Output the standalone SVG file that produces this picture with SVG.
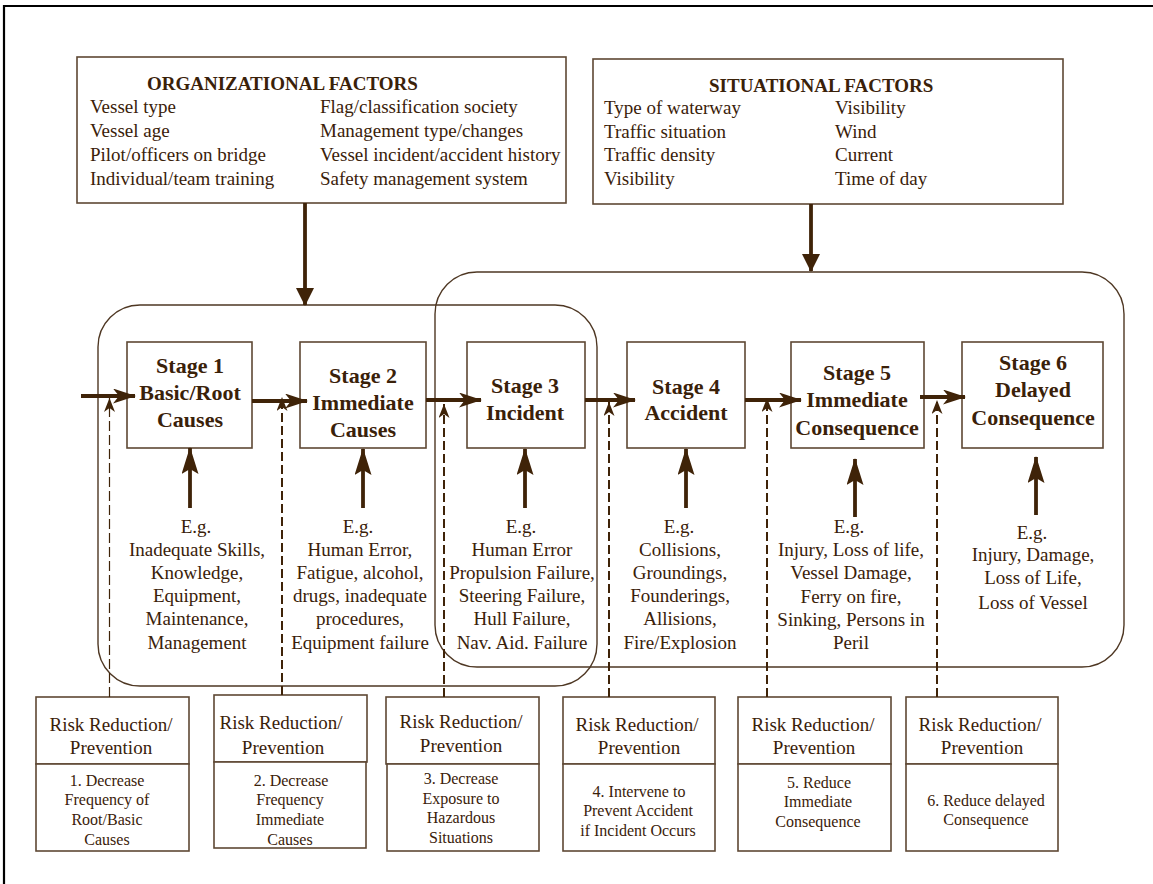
<svg xmlns="http://www.w3.org/2000/svg" width="1153" height="884" viewBox="0 0 1153 884">
<defs>
<style>
.box{fill:#fff;stroke:#5e4834;stroke-width:1.6}
.grp{fill:none;stroke:#4e3723;stroke-width:1.4}
.t{font-family:"Liberation Serif","Times New Roman",serif;fill:#3a2109}
.r19{font-size:19px}
.b19{font-size:19px;font-weight:bold}
.st{font-size:22px;font-weight:bold;text-anchor:middle}
.eg{font-size:19px;text-anchor:middle}
.ds{font-size:16px;text-anchor:middle}
.arr{stroke:#3f2308;stroke-width:3.8;fill:none}
.dash{stroke:#3f2308;stroke-width:2;fill:none;stroke-dasharray:9 4}
.dash1{stroke:#3f2308;stroke-width:1.2;fill:none;stroke-dasharray:10 4}
</style>
<marker id="ah" markerUnits="userSpaceOnUse" markerWidth="26" markerHeight="18" refX="22" refY="7.5" orient="auto"><path d="M0,0 L23,7.5 L0,15 L6,7.5 z" fill="#3f2308"/></marker>
<marker id="tri" markerUnits="userSpaceOnUse" markerWidth="20" markerHeight="20" refX="17" refY="9" orient="auto"><path d="M0,0 L18,9 L0,18 z" fill="#3f2308"/></marker>
<marker id="up" markerUnits="userSpaceOnUse" markerWidth="30" markerHeight="20" refX="26" refY="8.5" orient="auto"><path d="M0,0 L27,8.5 L0,17 L5,8.5 z" fill="#3f2308"/></marker>
<marker id="sm" markerUnits="userSpaceOnUse" markerWidth="16" markerHeight="14" refX="14" refY="5.5" orient="auto"><path d="M0,0 L14,5.5 L0,11 L4,5.5 z" fill="#3f2308"/></marker>
</defs>
<rect width="1153" height="884" fill="#fff"/>
<path d="M4,884 V6 H1153" fill="none" stroke="#000" stroke-width="2.2"/>

<g id="groups">
<rect class="grp" x="98" y="305" width="499" height="381" rx="42" ry="42"/>
<rect class="grp" x="435" y="272" width="689" height="395" rx="42" ry="42"/>
</g>

<g id="org-factors">
<rect class="box" x="77" y="57" width="489" height="146"/>
<text class="t b19" x="147" y="90">ORGANIZATIONAL FACTORS</text>
<text class="t r19" x="90" y="113">Vessel type</text>
<text class="t r19" x="90" y="137">Vessel age</text>
<text class="t r19" x="90" y="161">Pilot/officers on bridge</text>
<text class="t r19" x="90" y="185">Individual/team training</text>
<text class="t r19" x="320" y="113">Flag/classification society</text>
<text class="t r19" x="320" y="137">Management type/changes</text>
<text class="t r19" x="320" y="161">Vessel incident/accident history</text>
<text class="t r19" x="320" y="185">Safety management system</text>
</g>

<g id="sit-factors">
<rect class="box" x="593" y="59" width="470" height="145"/>
<text class="t b19" x="709" y="92">SITUATIONAL FACTORS</text>
<text class="t r19" x="604" y="114">Type of waterway</text>
<text class="t r19" x="604" y="138">Traffic situation</text>
<text class="t r19" x="604" y="161">Traffic density</text>
<text class="t r19" x="604" y="185">Visibility</text>
<text class="t r19" x="835" y="114">Visibility</text>
<text class="t r19" x="835" y="138">Wind</text>
<text class="t r19" x="835" y="161">Current</text>
<text class="t r19" x="835" y="185">Time of day</text>
</g>

<g id="stage1">
<rect class="box" x="127" y="342" width="125" height="106"/>
<text class="t st" x="190" y="373">Stage 1</text>
<text class="t st" x="190" y="400">Basic/Root</text>
<text class="t st" x="190" y="427">Causes</text>
</g>
<g id="stage2">
<rect class="box" x="300" y="342" width="126" height="106"/>
<text class="t st" x="363" y="383">Stage 2</text>
<text class="t st" x="363" y="410">Immediate</text>
<text class="t st" x="363" y="437">Causes</text>
</g>
<g id="stage3">
<rect class="box" x="467" y="342" width="118" height="106"/>
<text class="t st" x="525" y="393">Stage 3</text>
<text class="t st" x="525" y="420">Incident</text>
</g>
<g id="stage4">
<rect class="box" x="627" y="342" width="118" height="106"/>
<text class="t st" x="686" y="394">Stage 4</text>
<text class="t st" x="686" y="420">Accident</text>
</g>
<g id="stage5">
<rect class="box" x="791" y="342" width="133" height="106"/>
<text class="t st" x="857" y="380">Stage 5</text>
<text class="t st" x="857" y="407">Immediate</text>
<text class="t st" x="857" y="435">Consequence</text>
</g>
<g id="stage6">
<rect class="box" x="962" y="342" width="141" height="106"/>
<text class="t st" x="1033" y="370">Stage 6</text>
<text class="t st" x="1033" y="397">Delayed</text>
<text class="t st" x="1033" y="425">Consequence</text>
</g>

<g id="eg1">
<text class="t eg" x="196" y="533">E.g.</text>
<text class="t eg" x="197" y="556">Inadequate Skills,</text>
<text class="t eg" x="197" y="579">Knowledge,</text>
<text class="t eg" x="197" y="602">Equipment,</text>
<text class="t eg" x="197" y="625">Maintenance,</text>
<text class="t eg" x="197" y="649">Management</text>
</g>
<g id="eg2">
<text class="t eg" x="358" y="533">E.g.</text>
<text class="t eg" x="360" y="556">Human Error,</text>
<text class="t eg" x="360" y="579">Fatigue, alcohol,</text>
<text class="t eg" x="360" y="602">drugs, inadequate</text>
<text class="t eg" x="360" y="625">procedures,</text>
<text class="t eg" x="360" y="649">Equipment failure</text>
</g>
<g id="eg3">
<text class="t eg" x="521" y="533">E.g.</text>
<text class="t eg" x="522" y="556">Human Error</text>
<text class="t eg" x="522" y="579">Propulsion Failure,</text>
<text class="t eg" x="522" y="602">Steering Failure,</text>
<text class="t eg" x="522" y="625">Hull Failure,</text>
<text class="t eg" x="522" y="649">Nav. Aid. Failure</text>
</g>
<g id="eg4">
<text class="t eg" x="679" y="533">E.g.</text>
<text class="t eg" x="680" y="556">Collisions,</text>
<text class="t eg" x="680" y="579">Groundings,</text>
<text class="t eg" x="680" y="602">Founderings,</text>
<text class="t eg" x="680" y="625">Allisions,</text>
<text class="t eg" x="680" y="649">Fire/Explosion</text>
</g>
<g id="eg5">
<text class="t eg" x="849" y="533">E.g.</text>
<text class="t eg" x="851" y="556">Injury, Loss of life,</text>
<text class="t eg" x="851" y="579">Vessel Damage,</text>
<text class="t eg" x="851" y="603">Ferry on fire,</text>
<text class="t eg" x="851" y="626">Sinking, Persons in</text>
<text class="t eg" x="851" y="649">Peril</text>
</g>
<g id="eg6">
<text class="t eg" x="1032" y="539">E.g.</text>
<text class="t eg" x="1033" y="561">Injury, Damage,</text>
<text class="t eg" x="1033" y="584">Loss of Life,</text>
<text class="t eg" x="1033" y="609">Loss of Vessel</text>
</g>

<g id="risk1">
<rect class="box" x="36" y="697" width="153" height="67"/>
<rect class="box" x="36" y="764" width="153" height="87"/>
<text class="t eg" x="111" y="731">Risk Reduction/</text>
<text class="t eg" x="111" y="754">Prevention</text>
<text class="t ds" x="107" y="786">1. Decrease</text>
<text class="t ds" x="107" y="805">Frequency of</text>
<text class="t ds" x="107" y="825">Root/Basic</text>
<text class="t ds" x="107" y="845">Causes</text>
</g>
<g id="risk2">
<rect class="box" x="214" y="695" width="153" height="67"/>
<rect class="box" x="214" y="762" width="152" height="86"/>
<text class="t eg" x="281" y="729">Risk Reduction/</text>
<text class="t eg" x="283" y="754">Prevention</text>
<text class="t ds" x="291" y="786">2. Decrease</text>
<text class="t ds" x="290" y="805">Frequency</text>
<text class="t ds" x="290" y="825">Immediate</text>
<text class="t ds" x="290" y="845">Causes</text>
</g>
<g id="risk3">
<rect class="box" x="386" y="697" width="153" height="67"/>
<rect class="box" x="387" y="764" width="152" height="87"/>
<text class="t eg" x="461" y="728">Risk Reduction/</text>
<text class="t eg" x="461" y="752">Prevention</text>
<text class="t ds" x="461" y="784">3. Decrease</text>
<text class="t ds" x="461" y="804">Exposure to</text>
<text class="t ds" x="461" y="823">Hazardous</text>
<text class="t ds" x="461" y="843">Situations</text>
</g>
<g id="risk4">
<rect class="box" x="563" y="697" width="152" height="67"/>
<rect class="box" x="563" y="764" width="152" height="87"/>
<text class="t eg" x="637" y="731">Risk Reduction/</text>
<text class="t eg" x="639" y="754">Prevention</text>
<text class="t ds" x="639" y="797">4. Intervene to</text>
<text class="t ds" x="638" y="816">Prevent Accident</text>
<text class="t ds" x="638" y="836">if Incident Occurs</text>
</g>
<g id="risk5">
<rect class="box" x="738" y="697" width="153" height="67"/>
<rect class="box" x="738" y="764" width="153" height="87"/>
<text class="t eg" x="813" y="731">Risk Reduction/</text>
<text class="t eg" x="814" y="754">Prevention</text>
<text class="t ds" x="819" y="788">5. Reduce</text>
<text class="t ds" x="818" y="807">Immediate</text>
<text class="t ds" x="818" y="827">Consequence</text>
</g>
<g id="risk6">
<rect class="box" x="906" y="697" width="152" height="67"/>
<rect class="box" x="906" y="764" width="152" height="87"/>
<text class="t eg" x="980" y="731">Risk Reduction/</text>
<text class="t eg" x="982" y="754">Prevention</text>
<text class="t ds" x="986" y="806">6. Reduce delayed</text>
<text class="t ds" x="986" y="825">Consequence</text>
</g>

<g id="connectors">
<line class="arr" x1="305" y1="203" x2="305" y2="305" marker-end="url(#tri)"/>
<line class="arr" x1="811" y1="204" x2="811" y2="271" marker-end="url(#tri)"/>
<line class="arr" x1="81" y1="396" x2="135" y2="396" marker-end="url(#ah)"/>
<line class="arr" x1="252" y1="401" x2="307" y2="401" marker-end="url(#ah)"/>
<line class="arr" x1="426" y1="400" x2="481" y2="400" marker-end="url(#ah)"/>
<line class="arr" x1="585" y1="400" x2="635" y2="400" marker-end="url(#ah)"/>
<line class="arr" x1="745" y1="400" x2="801" y2="400" marker-end="url(#ah)"/>
<line class="arr" x1="920" y1="397" x2="965" y2="397" marker-end="url(#ah)"/>
<line class="arr" x1="190" y1="508" x2="190" y2="448" marker-end="url(#up)"/>
<line class="arr" x1="363" y1="508" x2="363" y2="449" marker-end="url(#up)"/>
<line class="arr" x1="525" y1="508" x2="525" y2="449" marker-end="url(#up)"/>
<line class="arr" x1="686" y1="508" x2="686" y2="449" marker-end="url(#up)"/>
<line class="arr" x1="855" y1="517" x2="855" y2="459" marker-end="url(#up)"/>
<line class="arr" x1="1036" y1="515" x2="1036" y2="457" marker-end="url(#up)"/>
<line class="dash1" x1="109.5" y1="697" x2="109.5" y2="398" marker-end="url(#sm)"/>
<line class="dash" x1="282" y1="695" x2="282" y2="397" marker-end="url(#sm)"/>
<line class="dash" x1="444" y1="697" x2="444" y2="404" marker-end="url(#sm)"/>
<line class="dash" x1="609" y1="697" x2="609" y2="402" marker-end="url(#sm)"/>
<line class="dash" x1="767" y1="697" x2="767" y2="398" marker-end="url(#sm)"/>
<line class="dash" x1="937" y1="697" x2="937" y2="400" marker-end="url(#sm)"/>
</g>
</svg>
